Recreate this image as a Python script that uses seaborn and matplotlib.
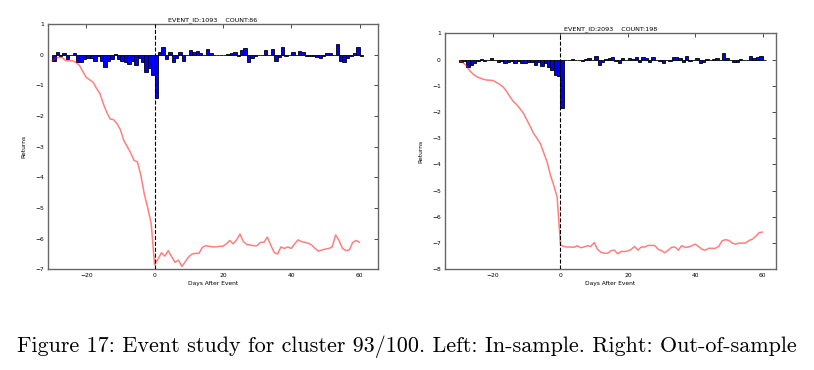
#!/usr/bin/env python3
import numpy as np
import pandas as pd
import seaborn as sns
import matplotlib.pyplot as plt

# === Data ===
days_bar = list(range(-30, 61))
days_line = list(range(-30, 61))

# in-sample (EVENT_ID 1093)
left_bars = [
    -0.20, 0.10, -0.03, 0.05, -0.15, -0.02, 0.05, -0.25, -0.25, -0.15,
    -0.10, -0.10, -0.20, -0.05, -0.20, -0.40, -0.20, -0.15, 0.02, -0.15,
    -0.20, -0.25, -0.30, -0.20, -0.35, -0.10, -0.25, -0.55, -0.45, -0.65,
    -1.40, 0.10, 0.25, -0.15, 0.10, -0.25, -0.10, 0.10, -0.20, 0.00,
    0.15, 0.10, 0.12, 0.05, -0.02, 0.20, 0.05, 0.00, 0.00, 0.00,
    0.00, 0.02, 0.05, 0.08, -0.05, 0.15, 0.22, -0.25, -0.10, -0.05,
    0.00, 0.00, 0.15, 0.00, 0.20, -0.20, -0.08, 0.25, -0.05, -0.02,
    0.10, 0.00, 0.12, 0.10, -0.05, -0.05, -0.05, -0.08, -0.10, -0.05,
    0.05, 0.05, 0.00, 0.35, -0.20, -0.25, -0.10, -0.05, 0.05, 0.25,
    -0.05,
]
left_cum = [
    -0.20, -0.12, -0.09, -0.10, -0.20, -0.20, -0.20, -0.25, -0.35, -0.55,
    -0.74, -0.82, -0.90, -1.10, -1.27, -1.60, -1.88, -2.10, -2.12, -2.25,
    -2.45, -2.80, -3.00, -3.20, -3.45, -3.50, -3.95, -4.55, -5.00, -5.50,
    -6.85, -6.67, -6.46, -6.57, -6.39, -6.59, -6.77, -6.70, -6.91, -6.75,
    -6.59, -6.50, -6.48, -6.48, -6.28, -6.23, -6.25, -6.27, -6.27, -6.25,
    -6.25, -6.17, -6.06, -6.17, -6.04, -5.85, -6.10, -6.19, -6.21, -6.23,
    -6.23, -6.12, -6.12, -5.95, -6.21, -6.45, -6.50, -6.27, -6.32, -6.27,
    -6.32, -6.17, -6.04, -6.10, -6.12, -6.15, -6.21, -6.32, -6.41, -6.37,
    -6.34, -6.32, -6.27, -5.88, -6.06, -6.32, -6.39, -6.37, -6.12, -6.06,
    -6.12,
]

# out-of-sample (EVENT_ID 2093)
right_bars = [
    -0.10, -0.05, -0.28, -0.20, -0.15, -0.05, 0.02, -0.05, 0.00, 0.05,
    -0.02, -0.10, -0.05, -0.12, -0.10, -0.05, -0.15, -0.05, -0.15, -0.12,
    -0.10, -0.10, -0.20, -0.10, -0.25, -0.15, -0.30, -0.40, -0.60, -0.62,
    -1.85, 0.00, -0.02, 0.02, 0.00, -0.03, -0.05, 0.02, 0.05, 0.00,
    0.15, -0.20, -0.10, 0.02, 0.05, 0.08, -0.05, -0.12, 0.05, 0.00,
    0.05, 0.03, 0.10, -0.10, 0.08, 0.05, -0.10, 0.08, 0.00, -0.05,
    -0.15, 0.00, -0.05, 0.08, 0.10, 0.05, -0.08, 0.12, -0.05, 0.00,
    0.05, -0.12, -0.08, 0.02, 0.00, 0.02, 0.05, 0.00, 0.25, 0.05,
    0.00, -0.10, -0.08, 0.02, 0.00, -0.03, 0.12, 0.05, 0.08, 0.15,
    0.00,
]
right_cum = [
    -0.05, -0.12, -0.22, -0.42, -0.55, -0.65, -0.70, -0.75, -0.78, -0.79,
    -0.80, -0.88, -0.95, -1.05, -1.22, -1.42, -1.60, -1.72, -1.88, -2.05,
    -2.30, -2.55, -2.82, -3.00, -3.20, -3.55, -3.90, -4.40, -4.80, -5.25,
    -7.07, -7.13, -7.15, -7.15, -7.16, -7.10, -7.18, -7.15, -7.10, -7.13,
    -6.98, -7.24, -7.35, -7.39, -7.39, -7.29, -7.27, -7.41, -7.32, -7.32,
    -7.30, -7.24, -7.13, -7.27, -7.15, -7.15, -7.09, -7.09, -7.09, -7.24,
    -7.29, -7.37, -7.27, -7.16, -7.15, -7.27, -7.10, -7.16, -7.15, -7.10,
    -7.04, -7.13, -7.24, -7.27, -7.20, -7.20, -7.20, -7.13, -6.91, -6.87,
    -6.90, -7.00, -7.04, -7.00, -7.00, -7.00, -6.90, -6.85, -6.74, -6.60,
    -6.58,
]

titles = ["EVENT_ID:1093    COUNT:86", "EVENT_ID:2093    COUNT:198"]
caption = "Figure 17: Event study for cluster 93/100. Left: In-sample. Right: Out-of-sample"


def draw_panel(ax, bars, cum, title, ylim, xlim, yticks):
    ax.bar(days_bar, bars, width=1.0, align="edge", color="#0000ff",
           edgecolor="black", linewidth=0.6, zorder=2)
    df = pd.DataFrame({"day": days_line, "cum": cum})
    sns.lineplot(data=df, x="day", y="cum", ax=ax, color="red", alpha=0.5,
                 linewidth=1.1, zorder=3)
    ax.axvline(0, color="black", linestyle="--", linewidth=0.8, zorder=4)
    ax.set_xlim(*xlim)
    ax.set_ylim(*ylim)
    ax.set_yticks(yticks)
    ax.set_xticks([-20, 0, 20, 40, 60])
    ax.set_title(title, fontsize=4.6, pad=2)
    ax.set_xlabel("Days After Event", fontsize=4.3, labelpad=1.5)
    ax.set_ylabel("Returns", fontsize=4.3, labelpad=6)
    ax.tick_params(direction="in", length=3, width=0.5, labelsize=4.3,
                   top=True, right=True, pad=3)
    for s in ax.spines.values():
        s.set_color("0.4")
        s.set_linewidth(1.0)


def main():
    sns.set_theme(style="white")
    plt.rcParams["font.family"] = ["DejaVu Sans"]
    plt.rcParams.update({
        "text.color": "black",
        "axes.labelcolor": "black",
        "xtick.color": "black",
        "ytick.color": "black",
    })

    fig = plt.figure(figsize=(8.14, 3.70), dpi=100)
    W, H = 814, 370
    ax1 = fig.add_axes([48 / W, 1 - 269.3 / H, 330 / W, (269.3 - 24) / H])
    ax2 = fig.add_axes([445 / W, 1 - 269.3 / H, 331 / W, (269.3 - 33.3) / H])

    draw_panel(ax1, left_bars, left_cum, titles[0], (-7, 1), (-31.2, 65.4),
               list(range(-7, 2)))
    draw_panel(ax2, right_bars, right_cum, titles[1], (-8, 1), (-34.3, 64),
               list(range(-8, 2)))

    fig.text(0.5, 1 - 347 / H, caption, ha="center", va="center",
             fontsize=15.9, color="black", family=["cmr10", "DejaVu Serif"])

    fig.savefig("out.png", dpi=100)
    plt.close(fig)


if __name__ == "__main__":
    main()
